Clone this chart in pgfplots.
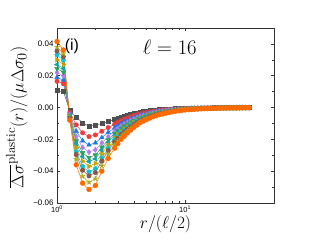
\documentclass[border=0pt]{standalone}
\usepackage{pgfplots}
\pgfplotsset{compat=1.18}
\usepackage{pgfplotstable}
\usepackage{fontspec}
\newfontfamily\sfa{Liberation Sans}
\definecolor{cgray}{HTML}{505050}
\definecolor{cred}{HTML}{EE3B3B}
\definecolor{cblue}{HTML}{1E78E6}
\definecolor{cpurp}{HTML}{B07EE8}
\definecolor{cgreen}{HTML}{2CA05A}
\definecolor{cteal}{HTML}{17A2A2}
\definecolor{colive}{HTML}{C8A000}
\definecolor{ccyan}{HTML}{17BECF}
\definecolor{cbrown}{HTML}{8C564B}
\definecolor{cyell}{HTML}{A8A820}
\definecolor{corange}{HTML}{FF6A00}

\pgfplotstableread{
r gray red blue purp green teal olive cyan brown yell orange
1.000 0.0106 0.0165 0.0190 0.0220 0.0245 0.0270 0.0300 0.0330 0.0355 0.0380 0.0415
1.122 0.0100 0.0150 0.0172 0.0200 0.0222 0.0245 0.0270 0.0298 0.0320 0.0340 0.0362
1.259 -0.0020 -0.0030 -0.0038 -0.0044 -0.0050 -0.0054 -0.0058 -0.0063 -0.0067 -0.0073 -0.0080
1.413 -0.0060 -0.0109 -0.0149 -0.0182 -0.0209 -0.0228 -0.0251 -0.0277 -0.0296 -0.0326 -0.0360
1.585 -0.0097 -0.0159 -0.0209 -0.0251 -0.0284 -0.0308 -0.0337 -0.0370 -0.0394 -0.0432 -0.0475
1.778 -0.0118 -0.0183 -0.0235 -0.0280 -0.0315 -0.0340 -0.0370 -0.0405 -0.0430 -0.0470 -0.0515
1.995 -0.0110 -0.0172 -0.0222 -0.0265 -0.0298 -0.0322 -0.0351 -0.0385 -0.0409 -0.0447 -0.0490
2.239 -0.0100 -0.0149 -0.0189 -0.0222 -0.0249 -0.0268 -0.0291 -0.0317 -0.0336 -0.0366 -0.0400
2.512 -0.0088 -0.0126 -0.0156 -0.0183 -0.0203 -0.0218 -0.0235 -0.0256 -0.0270 -0.0294 -0.0320
2.818 -0.0075 -0.0105 -0.0128 -0.0148 -0.0164 -0.0176 -0.0189 -0.0205 -0.0216 -0.0235 -0.0255
2.985 -0.0067 -0.0094 -0.0114 -0.0132 -0.0146 -0.0157 -0.0169 -0.0183 -0.0193 -0.0209 -0.0227
3.162 -0.0060 -0.0083 -0.0101 -0.0117 -0.0129 -0.0138 -0.0149 -0.0161 -0.0170 -0.0184 -0.0200
3.350 -0.0054 -0.0074 -0.0091 -0.0105 -0.0116 -0.0124 -0.0134 -0.0145 -0.0153 -0.0165 -0.0180
3.548 -0.0048 -0.0066 -0.0081 -0.0094 -0.0104 -0.0111 -0.0119 -0.0129 -0.0136 -0.0147 -0.0160
3.758 -0.0042 -0.0058 -0.0072 -0.0083 -0.0092 -0.0098 -0.0106 -0.0115 -0.0121 -0.0131 -0.0142
3.981 -0.0037 -0.0051 -0.0063 -0.0073 -0.0081 -0.0086 -0.0093 -0.0101 -0.0106 -0.0115 -0.0125
4.217 -0.0033 -0.0045 -0.0055 -0.0064 -0.0071 -0.0076 -0.0082 -0.0089 -0.0093 -0.0101 -0.0110
4.467 -0.0029 -0.0040 -0.0048 -0.0056 -0.0062 -0.0066 -0.0071 -0.0077 -0.0081 -0.0088 -0.0095
4.732 -0.0025 -0.0035 -0.0043 -0.0050 -0.0055 -0.0059 -0.0063 -0.0068 -0.0072 -0.0078 -0.0085
5.012 -0.0022 -0.0031 -0.0038 -0.0044 -0.0048 -0.0052 -0.0056 -0.0060 -0.0064 -0.0069 -0.0075
5.309 -0.0019 -0.0027 -0.0033 -0.0039 -0.0042 -0.0046 -0.0049 -0.0053 -0.0056 -0.0061 -0.0066
5.623 -0.0017 -0.0024 -0.0029 -0.0034 -0.0037 -0.0040 -0.0043 -0.0047 -0.0049 -0.0053 -0.0058
5.957 -0.0015 -0.0021 -0.0025 -0.0030 -0.0033 -0.0035 -0.0038 -0.0041 -0.0043 -0.0047 -0.0051
6.310 -0.0013 -0.0018 -0.0022 -0.0026 -0.0029 -0.0031 -0.0033 -0.0036 -0.0038 -0.0041 -0.0045
6.683 -0.0011 -0.0016 -0.0019 -0.0023 -0.0025 -0.0027 -0.0029 -0.0032 -0.0034 -0.0036 -0.0040
7.079 -0.0010 -0.0014 -0.0017 -0.0020 -0.0022 -0.0024 -0.0026 -0.0028 -0.0030 -0.0032 -0.0035
7.499 -0.0009 -0.0012 -0.0015 -0.0018 -0.0019 -0.0021 -0.0023 -0.0025 -0.0026 -0.0028 -0.0031
7.943 -0.0008 -0.0011 -0.0014 -0.0016 -0.0017 -0.0019 -0.0020 -0.0022 -0.0023 -0.0025 -0.0027
8.414 -0.0007 -0.0010 -0.0012 -0.0014 -0.0015 -0.0016 -0.0017 -0.0019 -0.0020 -0.0021 -0.0023
8.913 -0.0006 -0.0008 -0.0010 -0.0012 -0.0013 -0.0014 -0.0015 -0.0016 -0.0017 -0.0018 -0.0020
9.441 -0.0005 -0.0007 -0.0009 -0.0010 -0.0011 -0.0012 -0.0013 -0.0014 -0.0015 -0.0016 -0.0017
10.00 -0.0005 -0.0007 -0.0008 -0.0009 -0.0010 -0.0011 -0.0011 -0.0012 -0.0013 -0.0014 -0.0015
10.59 -0.0004 -0.0006 -0.0007 -0.0008 -0.0009 -0.0009 -0.0010 -0.0011 -0.0011 -0.0012 -0.0013
11.22 -0.0004 -0.0005 -0.0006 -0.0007 -0.0008 -0.0008 -0.0009 -0.0010 -0.0010 -0.0011 -0.0012
11.89 -0.0003 -0.0004 -0.0005 -0.0006 -0.0007 -0.0007 -0.0008 -0.0008 -0.0009 -0.0009 -0.0010
12.59 -0.0003 -0.0004 -0.0005 -0.0005 -0.0006 -0.0006 -0.0007 -0.0007 -0.0008 -0.0008 -0.0009
13.34 -0.0002 -0.0003 -0.0004 -0.0004 -0.0005 -0.0005 -0.0006 -0.0006 -0.0007 -0.0007 -0.0008
14.13 -0.0002 -0.0003 -0.0003 -0.0004 -0.0004 -0.0005 -0.0005 -0.0006 -0.0006 -0.0006 -0.0007
14.96 -0.0002 -0.0002 -0.0003 -0.0003 -0.0004 -0.0004 -0.0004 -0.0005 -0.0005 -0.0005 -0.0006
15.85 -0.0002 -0.0002 -0.0003 -0.0003 -0.0004 -0.0004 -0.0004 -0.0004 -0.0004 -0.0005 -0.0005
16.79 -0.0001 -0.0002 -0.0002 -0.0003 -0.0003 -0.0003 -0.0003 -0.0004 -0.0004 -0.0004 -0.0004
17.78 -0.0001 -0.0002 -0.0002 -0.0002 -0.0003 -0.0003 -0.0003 -0.0003 -0.0003 -0.0004 -0.0004
18.84 -0.0001 -0.0001 -0.0002 -0.0002 -0.0002 -0.0002 -0.0002 -0.0003 -0.0003 -0.0003 -0.0003
19.95 -0.0001 -0.0001 -0.0002 -0.0002 -0.0002 -0.0002 -0.0002 -0.0002 -0.0003 -0.0003 -0.0003
21.13 -0.0001 -0.0001 -0.0001 -0.0002 -0.0002 -0.0002 -0.0002 -0.0002 -0.0002 -0.0002 -0.0003
22.39 -0.0001 -0.0001 -0.0001 -0.0001 -0.0002 -0.0002 -0.0002 -0.0002 -0.0002 -0.0002 -0.0002
23.71 -0.0001 -0.0001 -0.0001 -0.0001 -0.0001 -0.0002 -0.0002 -0.0002 -0.0002 -0.0002 -0.0002
25.12 0.0000 -0.0001 -0.0001 -0.0001 -0.0001 -0.0001 -0.0001 -0.0002 -0.0002 -0.0002 -0.0002
26.61 0.0000 -0.0001 -0.0001 -0.0001 -0.0001 -0.0001 -0.0001 -0.0001 -0.0001 -0.0002 -0.0002
28.18 0.0000 0.0000 0.0000 -0.0001 -0.0001 -0.0001 -0.0001 -0.0001 -0.0001 -0.0001 -0.0001
29.85 0.0000 0.0000 0.0000 -0.0001 -0.0001 -0.0001 -0.0001 -0.0001 -0.0001 -0.0001 -0.0001
31.62 0.0000 0.0000 0.0000 0.0000 0.0000 -0.0001 -0.0001 -0.0001 -0.0001 -0.0001 -0.0001
}\data

\begin{document}
\begin{tikzpicture}
\begin{axis}[
  name=ax,
  scale only axis,
  width=217bp, height=175bp,
  xmode=log,
  xmin=1, xmax=49.5,
  ymin=-0.06, ymax=0.05,
  scaled y ticks=false,
  xtick={1,10},
  xticklabels={{\sfa 10\textsuperscript{0}},{\sfa 10\textsuperscript{1}}},
  ytick={-0.06,-0.04,-0.02,0,0.02,0.04},
  yticklabels={{\sfa −0.06},{\sfa −0.04},{\sfa −0.02},{\sfa 0.00},{\sfa 0.02},{\sfa 0.04}},
  minor ytick={-0.05,-0.03,-0.01,0.01,0.03,0.05},
  tick label style={font=\fontsize{8}{9}\selectfont},
  xticklabel style={font=\fontsize{7.5}{8}\selectfont, yshift=1pt},
  tick align=inside,
  major tick length=3bp, minor tick length=1.8bp,
  axis line style={draw=black!80, line width=0.6pt},
  every tick/.style={black!80, line width=0.5pt},
  xlabel={$r/(\ell/2)$},
  ylabel={$\overline{\Delta\sigma}^{\mathrm{plastic}}(r)/(\mu\Delta\sigma_0)$},
  label style={font=\fontsize{19}{20}\selectfont},
  xlabel style={at={(axis description cs:0.5,-0.12)}, anchor=center},
  ylabel style={at={(axis description cs:-0.185,0.49)}, anchor=center},
  every axis plot/.append style={line width=0.5pt, mark size=2.2pt},
]
\addplot[color=cgray, mark=square*, mark size=2pt] table[x=r,y=gray] {\data};
\addplot[color=cred, mark=*] table[x=r,y=red] {\data};
\addplot[color=cblue, mark=triangle*, mark size=2.6pt] table[x=r,y=blue] {\data};
\addplot[color=cpurp, mark=diamond*, mark size=2.6pt] table[x=r,y=purp] {\data};
\addplot[color=cgreen, mark=triangle*, mark size=2.6pt, mark options={rotate=180}] table[x=r,y=green] {\data};
\addplot[color=cteal, mark=triangle*, mark size=2.6pt, mark options={rotate=90}] table[x=r,y=teal] {\data};
\addplot[color=colive, mark=triangle*, mark size=2.6pt, mark options={rotate=-90}] table[x=r,y=olive] {\data};
\addplot[color=ccyan, mark=pentagon*, mark size=2.4pt] table[x=r,y=cyan] {\data};
\addplot[color=cbrown, mark=*] table[x=r,y=brown] {\data};
\addplot[color=cyell, mark=star, mark size=2.6pt, mark options={line width=1pt}] table[x=r,y=yell] {\data};
\addplot[color=corange, mark=*, mark size=2.4pt] table[x=r,y=orange] {\data};
\node[anchor=base, inner sep=0pt, font=\fontsize{20}{22}\selectfont] at (axis description cs:0.52,0.851) {$\ell = 16$};
\node[anchor=west, inner sep=0pt, font=\sfa\fontsize{16}{18}\selectfont] at (axis description cs:0.035,0.897) {(i)};
\end{axis}
\pgfresetboundingbox
\path (ax.south west) ++(-57bp,-41bp) rectangle ++(319bp,244bp);
\end{tikzpicture}
\end{document}
